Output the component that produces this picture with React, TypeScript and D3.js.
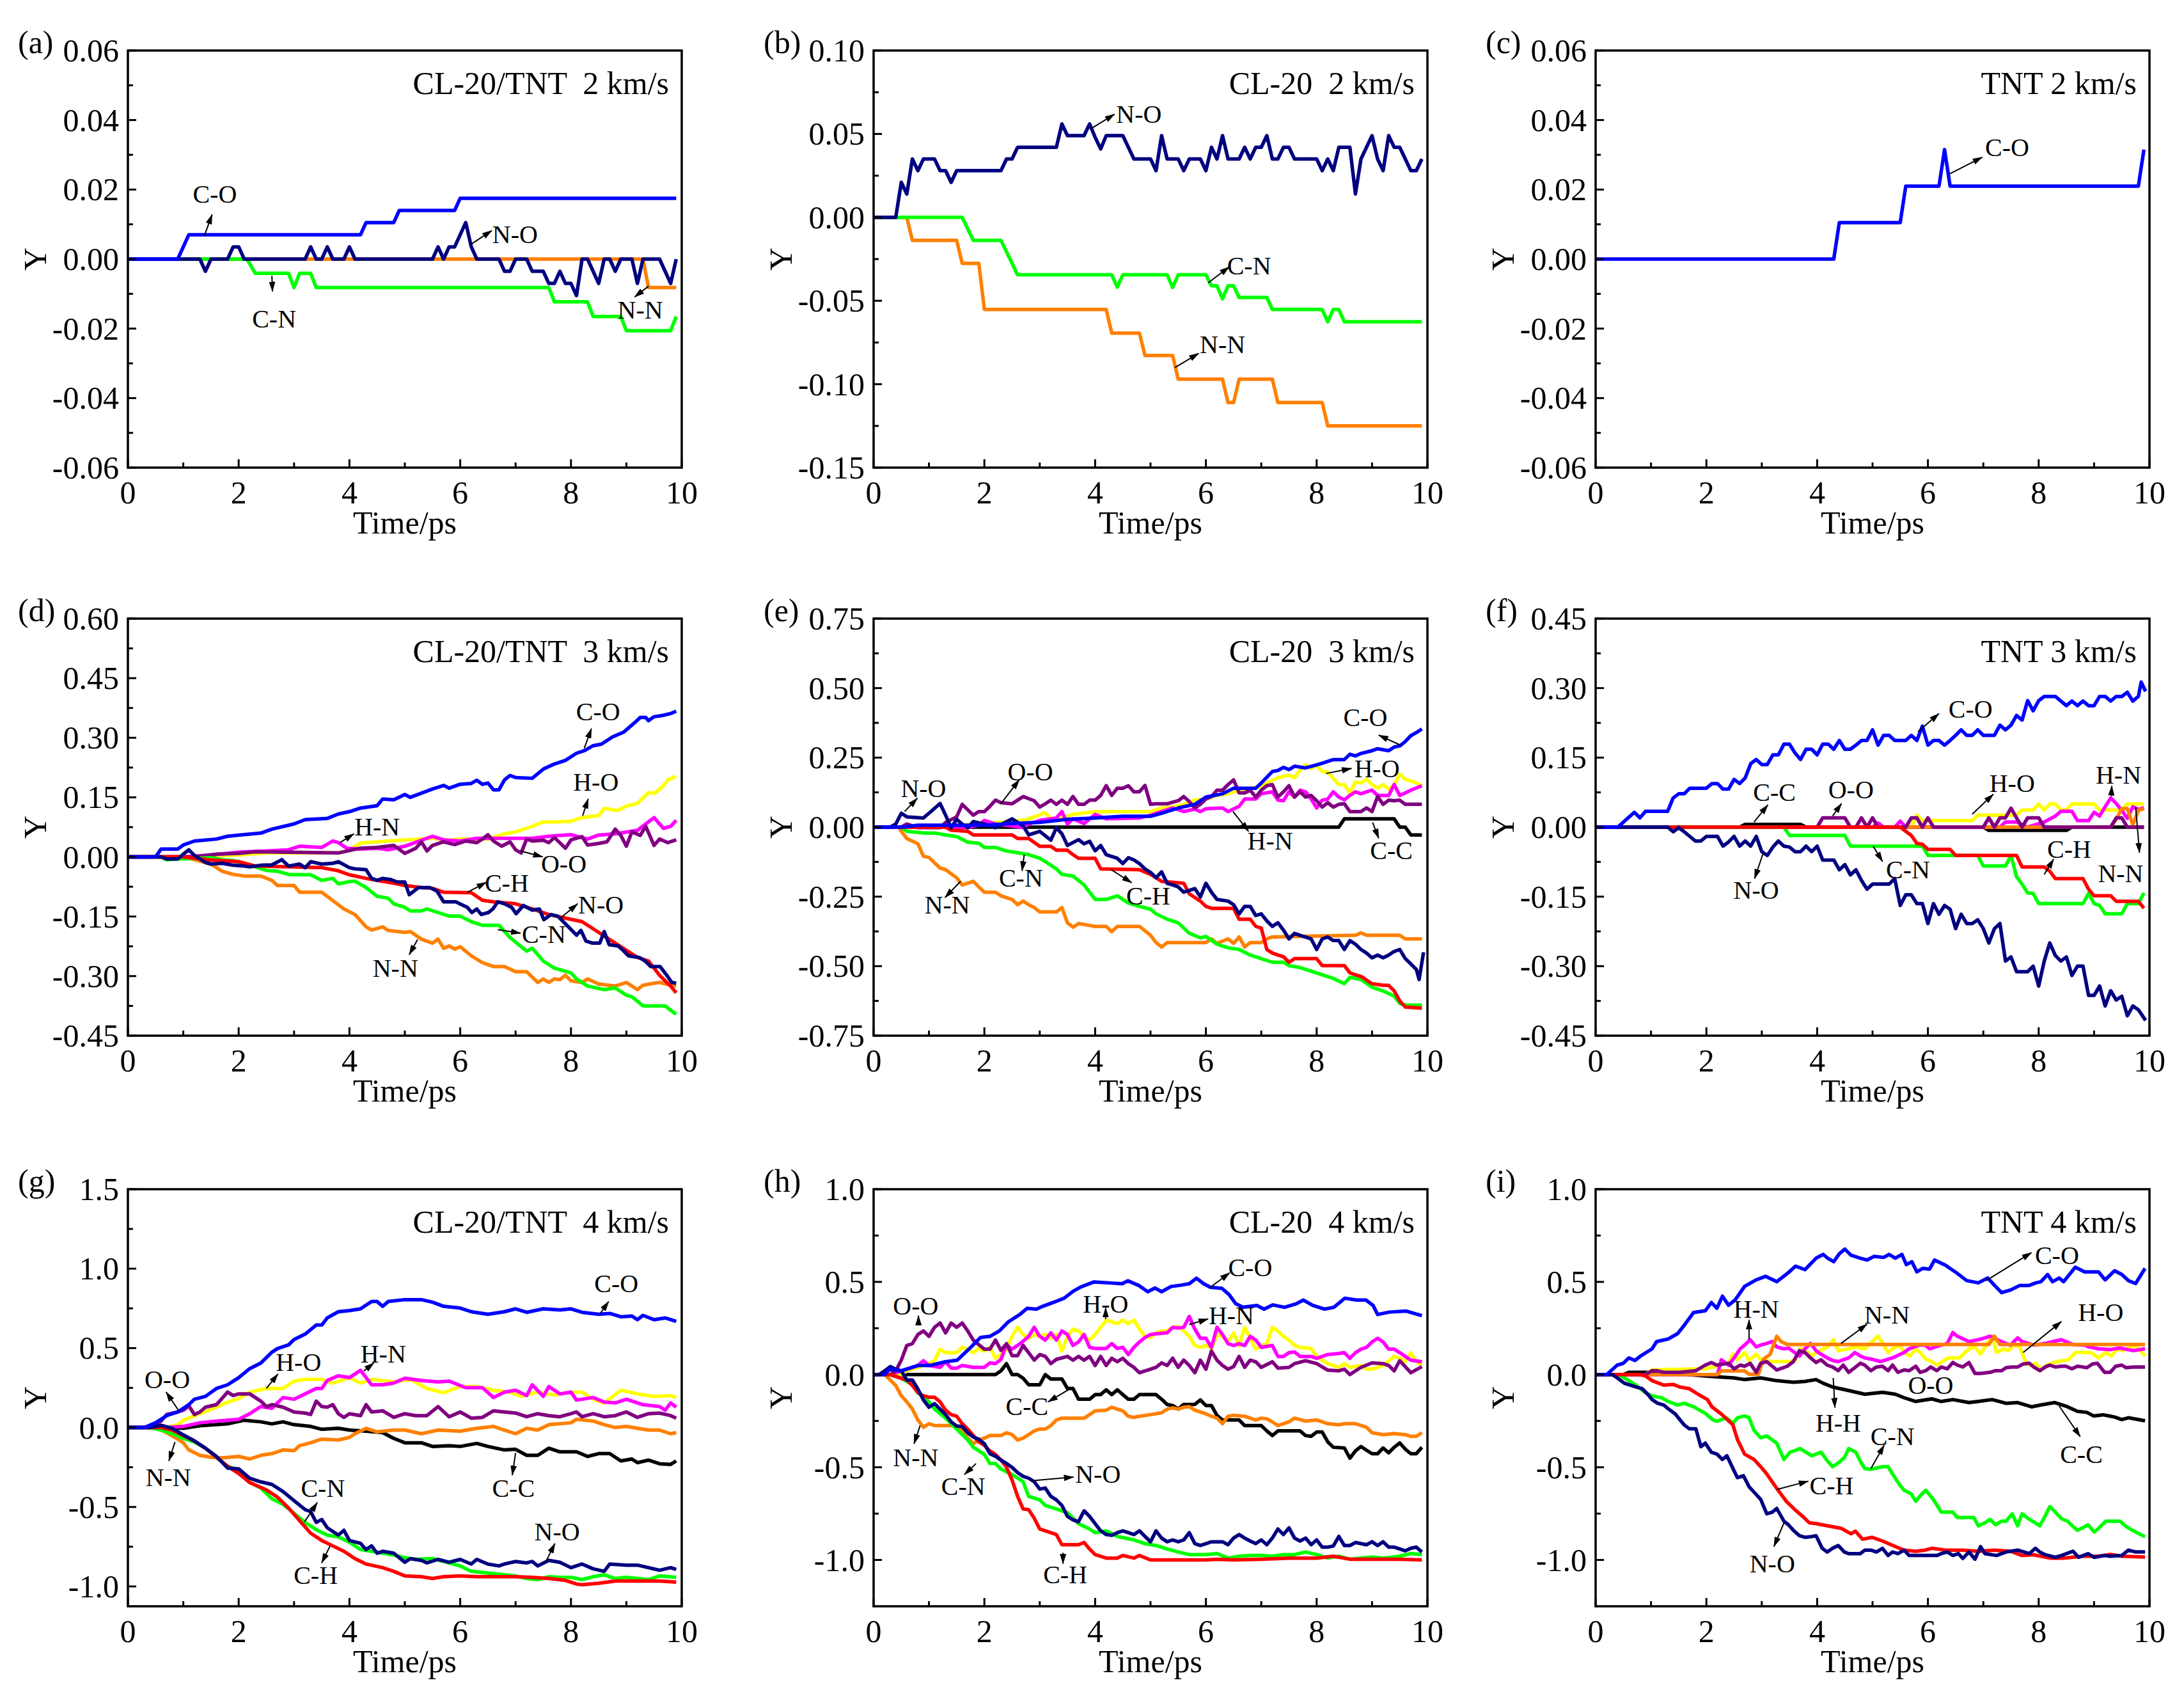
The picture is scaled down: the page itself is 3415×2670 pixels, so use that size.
import * as d3 from "d3";

type P = [number, number];
// text, label x, label y, then optional arrow x1, y1 -> x2, y2 (head at x2, y2)
type Note = [string, number, number, number?, number?, number?, number?];

const W = 3415;
const H = 2670;
const COL_X = [200, 1366, 2495];
const ROW_Y = [79, 967, 1859];
const PW = 866;
const PH = 652;
const FONT = "'Liberation Serif', 'Times New Roman', serif";

const COLORS: Record<string, string> = {
  "C-C": "#000000",
  "H-O": "#FFFF00",
  "H-N": "#FF00FF",
  "N-N": "#FF8000",
  "O-O": "#800080",
  "C-N": "#00FF00",
  "C-H": "#FF0000",
  "N-O": "#000080",
  "C-O": "#0000FF",
};
const DRAW_ORDER = ["C-C", "H-O", "H-N", "N-N", "O-O", "C-N", "C-H", "N-O", "C-O"];

const xTicks = [0, 2, 4, 6, 8, 10];
const xMinor = [1, 3, 5, 7, 9];

// ---------- (a) CL-20/TNT 2 km/s ----------
const a_yTicks = [-0.06, -0.04, -0.02, 0, 0.02, 0.04, 0.06];
const a_CO: P[] = [[0,0],[0.9,0],[1.1,0.007],[4.2,0.007],[4.3,0.0105],[4.8,0.0105],[4.9,0.014],[5.9,0.014],[6.0,0.0175],[9.9,0.0175]];
const a_NO: P[] = [[0,0],[1.3,0],[1.4,-0.0035],[1.5,0],[1.8,0],[1.9,0.0035],[2.0,0.0035],[2.1,0],[3.2,0],[3.3,0.0035],[3.4,0],[3.5,0],[3.6,0.0035],[3.7,0],[3.9,0],[4.0,0.0035],[4.1,0],[5.5,0],[5.6,0.0035],[5.7,0],[5.8,0.0035],[5.9,0.0035],[6.0,0.007],[6.1,0.0105],[6.2,0.0035],[6.3,0],[6.7,0],[6.8,-0.0035],[6.9,-0.0035],[7.0,0],[7.2,0],[7.3,-0.0035],[7.5,-0.0035],[7.6,-0.007],[7.7,-0.007],[7.8,-0.0035],[7.9,-0.007],[8.0,-0.007],[8.1,-0.0105],[8.2,0],[8.3,0],[8.4,-0.0035],[8.5,-0.007],[8.6,0],[8.7,0],[8.8,-0.0035],[8.9,0],[9.1,0],[9.2,-0.007],[9.3,0],[9.6,0],[9.8,-0.007],[9.9,0]];
const a_NN: P[] = [[0,0],[9.3,0],[9.4,-0.0082],[9.9,-0.0082]];
const a_CN: P[] = [[0,0],[2.15,0],[2.3,-0.0041],[2.9,-0.0041],[3.0,-0.0082],[3.1,-0.0041],[3.3,-0.0041],[3.4,-0.0082],[7.6,-0.0082],[7.7,-0.0123],[8.3,-0.0123],[8.4,-0.0165],[8.9,-0.0165],[9.0,-0.0206],[9.8,-0.0206],[9.9,-0.0165]];
const a_notes: Note[] = [
  ["C-O", 1.57, 0.0186, 1.38, 0.0067, 1.52, 0.0128],
  ["N-O", 6.99, 0.007, 6.19, 0.0042, 6.57, 0.0082],
  ["C-N", 2.64, -0.0172, 2.6, -0.0048, 2.61, -0.0093],
  ["N-N", 9.25, -0.0147, 9.4, -0.0078, 9.15, -0.0109],
];

// ---------- (b) CL-20 2 km/s ----------
const b_yTicks = [-0.15, -0.1, -0.05, 0, 0.05, 0.1];
const b_NO: P[] = [[0,0],[0.4,0],[0.5,0.021],[0.6,0.014],[0.7,0.035],[0.8,0.028],[0.9,0.035],[1.1,0.035],[1.2,0.028],[1.3,0.028],[1.4,0.021],[1.5,0.028],[2.3,0.028],[2.4,0.035],[2.5,0.035],[2.6,0.042],[3.3,0.042],[3.4,0.056],[3.5,0.049],[3.8,0.049],[3.9,0.056],[4.0,0.048],[4.1,0.041],[4.2,0.049],[4.5,0.049],[4.7,0.035],[5.0,0.035],[5.1,0.028],[5.2,0.049],[5.3,0.035],[5.5,0.035],[5.6,0.028],[5.7,0.035],[5.9,0.035],[6.0,0.028],[6.1,0.042],[6.2,0.035],[6.3,0.049],[6.4,0.035],[6.6,0.035],[6.7,0.042],[6.8,0.035],[6.9,0.042],[7.0,0.042],[7.1,0.049],[7.2,0.035],[7.3,0.035],[7.4,0.042],[7.5,0.042],[7.6,0.035],[8.0,0.035],[8.1,0.028],[8.2,0.035],[8.3,0.028],[8.4,0.042],[8.6,0.042],[8.7,0.014],[8.8,0.035],[8.9,0.042],[9.0,0.049],[9.1,0.035],[9.2,0.028],[9.3,0.049],[9.4,0.042],[9.5,0.042],[9.6,0.035],[9.7,0.028],[9.8,0.028],[9.9,0.035]];
const b_CN: P[] = [[0,0],[1.6,0],[1.8,-0.0138],[2.3,-0.0138],[2.6,-0.0344],[4.3,-0.0344],[4.4,-0.0418],[4.5,-0.0344],[5.3,-0.0344],[5.4,-0.042],[5.5,-0.0344],[6.0,-0.0344],[6.1,-0.041],[6.2,-0.041],[6.3,-0.0488],[6.4,-0.041],[6.5,-0.041],[6.6,-0.048],[7.1,-0.048],[7.2,-0.0552],[8.1,-0.0552],[8.2,-0.0626],[8.3,-0.0552],[8.4,-0.0552],[8.5,-0.0626],[9.9,-0.0626]];
const b_NN: P[] = [[0,0],[0.6,0],[0.7,-0.0138],[1.5,-0.0138],[1.6,-0.0276],[1.9,-0.0276],[2.0,-0.0552],[4.2,-0.0552],[4.3,-0.0694],[4.8,-0.0694],[4.9,-0.0828],[5.4,-0.0828],[5.5,-0.097],[6.3,-0.097],[6.4,-0.111],[6.5,-0.111],[6.6,-0.097],[7.2,-0.097],[7.3,-0.111],[8.1,-0.111],[8.2,-0.125],[9.9,-0.125]];
const b_notes: Note[] = [
  ["N-O", 4.79, 0.0618, 3.93, 0.0533, 4.35, 0.0618],
  ["C-N", 6.78, -0.029, 6.04, -0.0393, 6.42, -0.0297],
  ["N-N", 6.3, -0.0762, 5.44, -0.09, 5.87, -0.0815],
];

// ---------- (c) TNT 2 km/s ----------
const c_yTicks = [-0.06, -0.04, -0.02, 0, 0.02, 0.04, 0.06];
const c_CO: P[] = [[0,0],[4.3,0],[4.4,0.0105],[5.5,0.0105],[5.6,0.021],[6.2,0.021],[6.3,0.0315],[6.4,0.021],[9.8,0.021],[9.9,0.0315]];
const c_notes: Note[] = [["C-O", 7.43, 0.0322, 6.39, 0.0245, 6.98, 0.0293]];

// ---------- (d) CL-20/TNT 3 km/s ----------
const d_yTicks = [-0.45, -0.3, -0.15, 0, 0.15, 0.3, 0.45, 0.6];
const d_CO: P[] = [[0,0],[0.5,0],[0.6,0.02],[0.9,0.02],[1.0,0.03],[1.2,0.04],[1.6,0.045],[1.8,0.052],[2.0,0.055],[2.4,0.06],[2.6,0.07],[3.0,0.083],[3.2,0.094],[3.6,0.097],[3.8,0.108],[4.0,0.114],[4.2,0.123],[4.5,0.129],[4.6,0.146],[4.8,0.144],[5.0,0.157],[5.1,0.15],[5.5,0.171],[5.7,0.18],[5.8,0.173],[6.0,0.183],[6.2,0.185],[6.3,0.193],[6.4,0.183],[6.5,0.186],[6.6,0.169],[6.7,0.169],[6.8,0.194],[6.9,0.205],[7.0,0.2],[7.3,0.198],[7.5,0.221],[7.7,0.234],[7.9,0.243],[8.1,0.261],[8.25,0.268],[8.4,0.28],[8.55,0.284],[8.75,0.302],[8.95,0.314],[9.15,0.338],[9.25,0.351],[9.35,0.351],[9.4,0.343],[9.5,0.353],[9.65,0.356],[9.8,0.361],[9.9,0.367]];
const d_HO: P[] = [[0,0],[1.0,0],[1.5,0.003],[2.0,0.005],[2.5,0.01],[3.8,0.01],[4.0,0.018],[4.2,0.035],[4.5,0.038],[5.0,0.043],[5.5,0.047],[5.8,0.042],[6.0,0.045],[6.5,0.045],[6.8,0.058],[7.0,0.063],[7.3,0.077],[7.5,0.088],[7.7,0.088],[8.0,0.09],[8.2,0.099],[8.5,0.104],[8.6,0.122],[8.85,0.117],[9.0,0.128],[9.2,0.135],[9.4,0.162],[9.5,0.16],[9.65,0.176],[9.75,0.194],[9.9,0.203]];
const d_HN: P[] = [[0,0],[1.0,0],[1.5,0.005],[2.0,0.012],[2.5,0.015],[2.9,0.018],[3.1,0.027],[3.5,0.024],[3.7,0.04],[3.8,0.036],[3.95,0.022],[4.2,0.02],[4.5,0.022],[4.7,0.018],[5.0,0.027],[5.5,0.052],[5.7,0.043],[6.0,0.04],[6.3,0.047],[7.3,0.047],[7.6,0.052],[8.0,0.056],[8.3,0.045],[8.5,0.055],[8.8,0.058],[9.2,0.067],[9.5,0.099],[9.67,0.072],[9.8,0.077],[9.9,0.092]];
const d_OO: P[] = [[0,0],[1.2,0],[1.6,0.007],[2.0,0.009],[2.3,0.013],[3.8,0.01],[4.2,0.022],[4.5,0.024],[4.8,0.029],[5.0,0.009],[5.2,0.022],[5.3,0.038],[5.4,0.015],[5.5,0.029],[5.7,0.038],[5.9,0.031],[6.1,0.04],[6.3,0.036],[6.4,0.045],[6.5,0.056],[6.6,0.04],[6.75,0.027],[6.9,0.038],[7.0,0.018],[7.1,0.01],[7.2,0.045],[7.3,0.04],[7.5,0.042],[7.6,0.036],[7.7,0.049],[7.9,0.022],[8.0,0.043],[8.2,0.051],[8.3,0.03],[8.5,0.034],[8.65,0.038],[8.8,0.07],[8.9,0.054],[9.0,0.027],[9.1,0.063],[9.25,0.054],[9.35,0.077],[9.5,0.029],[9.6,0.045],[9.75,0.036],[9.9,0.043]];
const d_CH: P[] = [[0,0],[1.0,0],[1.5,-0.008],[2.0,-0.012],[2.3,-0.023],[3.5,-0.027],[3.8,-0.035],[4.0,-0.045],[4.3,-0.054],[4.5,-0.059],[4.8,-0.066],[5.0,-0.072],[5.3,-0.077],[5.5,-0.079],[5.7,-0.089],[6.2,-0.09],[6.4,-0.109],[6.6,-0.113],[7.0,-0.118],[7.3,-0.131],[7.6,-0.145],[7.9,-0.154],[8.2,-0.163],[8.5,-0.19],[8.8,-0.217],[9.0,-0.235],[9.2,-0.253],[9.4,-0.262],[9.5,-0.28],[9.6,-0.298],[9.7,-0.312],[9.8,-0.325],[9.9,-0.342]];
const d_NO: P[] = [[0,0],[0.6,0],[0.7,-0.005],[0.9,-0.005],[1.0,0.007],[1.1,0.018],[1.2,0.004],[1.4,-0.014],[1.5,-0.018],[1.7,-0.016],[1.9,-0.021],[2.1,-0.023],[2.2,-0.025],[2.4,-0.021],[2.6,-0.02],[2.78,-0.007],[2.9,-0.023],[3.1,-0.018],[3.2,-0.027],[3.3,-0.012],[3.5,-0.018],[3.7,-0.016],[3.8,-0.012],[4.0,-0.027],[4.1,-0.03],[4.3,-0.032],[4.4,-0.054],[4.5,-0.059],[4.6,-0.054],[4.75,-0.057],[4.86,-0.063],[5.0,-0.063],[5.08,-0.095],[5.25,-0.077],[5.45,-0.077],[5.58,-0.086],[5.7,-0.113],[5.92,-0.113],[6.13,-0.127],[6.21,-0.14],[6.3,-0.131],[6.38,-0.145],[6.51,-0.14],[6.59,-0.131],[6.68,-0.113],[6.8,-0.118],[6.93,-0.127],[7.01,-0.143],[7.14,-0.122],[7.3,-0.134],[7.43,-0.131],[7.51,-0.158],[7.64,-0.145],[7.76,-0.149],[7.89,-0.167],[7.99,-0.181],[8.1,-0.197],[8.18,-0.185],[8.27,-0.212],[8.39,-0.217],[8.52,-0.217],[8.6,-0.188],[8.69,-0.221],[8.85,-0.224],[8.94,-0.235],[9.04,-0.249],[9.23,-0.253],[9.34,-0.262],[9.44,-0.276],[9.61,-0.276],[9.73,-0.298],[9.82,-0.316],[9.9,-0.318]];
const d_CN: P[] = [[0,0],[0.6,0],[0.7,-0.007],[0.9,-0.005],[1.5,-0.002],[1.7,-0.007],[1.9,-0.009],[2.1,-0.016],[2.3,-0.025],[2.5,-0.034],[2.7,-0.036],[2.9,-0.044],[3.3,-0.045],[3.5,-0.059],[3.7,-0.054],[3.8,-0.068],[4.0,-0.062],[4.1,-0.061],[4.3,-0.077],[4.5,-0.099],[4.7,-0.104],[4.8,-0.118],[5.0,-0.127],[5.1,-0.136],[5.3,-0.136],[5.4,-0.131],[5.6,-0.14],[5.8,-0.149],[6.0,-0.149],[6.2,-0.163],[6.4,-0.172],[6.7,-0.172],[6.9,-0.203],[7.1,-0.226],[7.2,-0.237],[7.3,-0.23],[7.5,-0.262],[7.7,-0.28],[8.0,-0.292],[8.1,-0.307],[8.3,-0.325],[8.6,-0.334],[8.8,-0.33],[9.0,-0.348],[9.1,-0.352],[9.3,-0.375],[9.7,-0.375],[9.8,-0.386],[9.9,-0.396]];
const d_NN: P[] = [[0,0],[1.0,0],[1.2,-0.007],[1.5,-0.018],[1.7,-0.036],[1.9,-0.044],[2.1,-0.048],[2.4,-0.048],[2.6,-0.059],[2.7,-0.072],[3.0,-0.072],[3.1,-0.089],[3.5,-0.089],[3.7,-0.11],[3.9,-0.131],[4.1,-0.145],[4.3,-0.176],[4.4,-0.184],[4.6,-0.176],[4.7,-0.185],[5.0,-0.19],[5.1,-0.188],[5.3,-0.207],[5.5,-0.217],[5.6,-0.207],[5.7,-0.23],[5.8,-0.224],[5.9,-0.232],[6.0,-0.226],[6.2,-0.249],[6.4,-0.266],[6.6,-0.276],[6.8,-0.276],[7.0,-0.289],[7.2,-0.289],[7.4,-0.316],[7.5,-0.307],[7.6,-0.316],[7.7,-0.307],[7.8,-0.309],[7.9,-0.298],[8.0,-0.312],[8.2,-0.316],[8.3,-0.307],[8.5,-0.32],[8.8,-0.325],[9.0,-0.316],[9.1,-0.325],[9.2,-0.334],[9.3,-0.323],[9.5,-0.318],[9.6,-0.316],[9.8,-0.323],[9.9,-0.325]];
const d_notes: Note[] = [
  ["C-O", 8.49, 0.365, 8.24, 0.2736, 8.37, 0.323],
  ["H-O", 8.45, 0.189, 8.21, 0.1035, 8.31, 0.146],
  ["H-N", 4.5, 0.0765, 3.83, 0.036, 4.08, 0.058],
  ["O-O", 7.87, -0.018, 7.09, 0.015, 7.49, 0.0],
  ["C-H", 6.84, -0.066, 6.13, -0.089, 6.47, -0.064],
  ["N-O", 8.54, -0.12, 7.81, -0.154, 8.12, -0.118],
  ["C-N", 7.51, -0.194, 6.68, -0.183, 7.09, -0.192],
  ["N-N", 4.83, -0.28, 5.23, -0.208, 5.08, -0.246],
];

// ---------- (e) CL-20 3 km/s ----------
const e_yTicks = [-0.75, -0.5, -0.25, 0, 0.25, 0.5, 0.75];
const e_CO: P[] = [[0,0],[0.5,0],[0.8,0.007],[2.0,0.007],[2.5,0.013],[3.0,0.017],[3.5,0.028],[4.0,0.033],[4.5,0.039],[5.0,0.039],[5.2,0.05],[5.5,0.069],[5.8,0.082],[6.0,0.108],[6.3,0.12],[6.5,0.14],[6.9,0.14],[7.0,0.159],[7.2,0.2],[7.3,0.204],[7.4,0.215],[7.5,0.207],[7.6,0.219],[7.8,0.213],[8.0,0.224],[8.1,0.23],[8.3,0.243],[8.5,0.243],[8.6,0.262],[8.7,0.256],[8.8,0.265],[9.0,0.275],[9.1,0.282],[9.3,0.275],[9.4,0.288],[9.5,0.292],[9.6,0.308],[9.7,0.329],[9.8,0.34],[9.9,0.353]];
const e_HO: P[] = [[0,0],[1.3,0],[1.5,0.007],[2.0,0.013],[2.5,0.021],[2.8,0.029],[3.1,0.052],[3.2,0.03],[3.4,0.033],[3.6,0.046],[4.0,0.056],[5.0,0.056],[5.2,0.069],[5.4,0.072],[5.6,0.082],[5.8,0.097],[6.0,0.101],[6.2,0.114],[6.4,0.12],[6.6,0.133],[6.8,0.139],[7.0,0.146],[7.1,0.159],[7.3,0.178],[7.5,0.187],[7.6,0.178],[7.7,0.206],[7.8,0.224],[7.9,0.211],[8.0,0.221],[8.1,0.2],[8.2,0.198],[8.4,0.153],[8.5,0.153],[8.6,0.123],[8.7,0.162],[8.8,0.159],[8.9,0.172],[9.0,0.153],[9.1,0.14],[9.2,0.153],[9.3,0.136],[9.4,0.153],[9.5,0.191],[9.6,0.172],[9.7,0.166],[9.8,0.159],[9.9,0.149]];
const e_HN: P[] = [[0,0],[1.7,0],[1.9,0.007],[2.0,0.024],[2.2,0.011],[2.4,0.007],[2.7,-0.002],[2.8,0.011],[3.0,0.024],[3.2,0.03],[3.3,0.033],[3.4,0.056],[3.5,0.011],[3.6,0.03],[3.8,0.013],[4.0,0.046],[4.2,0.03],[4.8,0.033],[5.0,0.043],[5.2,0.056],[5.4,0.069],[5.6,0.056],[5.8,0.065],[5.9,0.056],[6.0,0.066],[6.3,0.069],[6.4,0.056],[6.6,0.075],[6.7,0.101],[6.9,0.101],[7.0,0.12],[7.2,0.127],[7.3,0.097],[7.4,0.095],[7.5,0.127],[7.6,0.108],[7.7,0.133],[7.8,0.127],[7.9,0.101],[8.0,0.069],[8.1,0.097],[8.2,0.101],[8.3,0.127],[8.4,0.108],[8.5,0.098],[8.6,0.114],[8.7,0.127],[8.8,0.12],[8.9,0.127],[9.0,0.133],[9.1,0.114],[9.3,0.114],[9.4,0.153],[9.5,0.114],[9.6,0.123],[9.7,0.133],[9.9,0.149]];
const e_OO: P[] = [[0,0],[0.5,0],[0.6,0.011],[0.8,-0.002],[1.2,-0.002],[1.3,0.017],[1.5,0.037],[1.6,0.082],[1.8,0.043],[1.9,0.056],[2.0,0.056],[2.1,0.075],[2.2,0.097],[2.3,0.088],[2.5,0.084],[2.6,0.097],[2.7,0.11],[2.9,0.095],[3.0,0.072],[3.1,0.084],[3.2,0.097],[3.3,0.082],[3.4,0.097],[3.5,0.082],[3.6,0.11],[3.7,0.082],[3.8,0.082],[3.9,0.097],[4.0,0.097],[4.1,0.114],[4.2,0.149],[4.3,0.114],[4.4,0.14],[4.5,0.14],[4.6,0.149],[4.7,0.127],[4.8,0.127],[4.9,0.15],[5.0,0.082],[5.1,0.084],[5.3,0.084],[5.5,0.095],[5.6,0.11],[5.7,0.092],[5.8,0.069],[5.9,0.082],[6.0,0.101],[6.1,0.11],[6.2,0.133],[6.3,0.133],[6.4,0.153],[6.5,0.17],[6.6,0.123],[6.7,0.123],[6.8,0.133],[6.9,0.108],[7.0,0.133],[7.1,0.149],[7.2,0.153],[7.3,0.108],[7.4,0.127],[7.5,0.149],[7.6,0.108],[7.7,0.127],[7.8,0.108],[7.9,0.114],[8.0,0.095],[8.1,0.072],[8.2,0.088],[8.3,0.072],[8.4,0.082],[8.5,0.084],[8.6,0.056],[8.8,0.056],[8.9,0.069],[9.0,0.056],[9.1,0.11],[9.2,0.082],[9.3,0.097],[9.4,0.095],[9.5,0.097],[9.6,0.082],[9.9,0.082]];
const e_CC: P[] = [[0,0],[8.4,0],[8.5,0.03],[9.4,0.03],[9.5,0],[9.6,0],[9.7,-0.028],[9.9,-0.028]];
const e_NO: P[] = [[0,0],[0.3,0],[0.4,0.011],[0.5,0.05],[0.6,0.037],[0.9,0.033],[1.0,0.05],[1.2,0.085],[1.3,0.043],[1.4,-0.002],[1.5,0.028],[1.6,0.011],[1.7,-0.002],[1.8,0.02],[2.0,0.011],[2.2,-0.002],[2.5,0.03],[2.7,0.005],[2.8,-0.028],[3.0,-0.015],[3.2,-0.047],[3.3,-0.002],[3.4,-0.024],[3.5,-0.066],[3.7,-0.045],[3.8,-0.06],[3.9,-0.051],[4.0,-0.085],[4.1,-0.066],[4.2,-0.099],[4.4,-0.112],[4.5,-0.131],[4.6,-0.11],[4.7,-0.118],[4.8,-0.131],[4.9,-0.15],[5.0,-0.163],[5.1,-0.182],[5.2,-0.161],[5.3,-0.202],[5.4,-0.208],[5.5,-0.215],[5.6,-0.234],[5.8,-0.221],[5.9,-0.251],[6.0,-0.202],[6.1,-0.234],[6.2,-0.26],[6.4,-0.266],[6.5,-0.279],[6.6,-0.312],[6.7,-0.285],[6.8,-0.285],[6.9,-0.318],[7.0,-0.312],[7.1,-0.337],[7.2,-0.357],[7.3,-0.344],[7.4,-0.37],[7.5,-0.402],[7.6,-0.382],[7.7,-0.389],[7.9,-0.402],[8.0,-0.44],[8.1,-0.402],[8.2,-0.395],[8.3,-0.408],[8.4,-0.408],[8.5,-0.44],[8.6,-0.408],[8.7,-0.421],[8.8,-0.44],[8.9,-0.453],[9.0,-0.47],[9.1,-0.46],[9.2,-0.47],[9.3,-0.46],[9.4,-0.447],[9.5,-0.44],[9.6,-0.473],[9.7,-0.492],[9.8,-0.512],[9.85,-0.548],[9.9,-0.486],[9.93,-0.45]];
const e_CH: P[] = [[0,0],[1.3,0],[1.4,-0.011],[1.7,-0.015],[1.8,-0.028],[2.5,-0.028],[2.6,-0.041],[2.8,-0.041],[3.0,-0.069],[3.2,-0.069],[3.3,-0.083],[3.5,-0.083],[3.6,-0.099],[3.7,-0.112],[4.0,-0.112],[4.1,-0.15],[4.8,-0.153],[5.0,-0.17],[5.1,-0.182],[5.2,-0.195],[5.6,-0.202],[5.7,-0.24],[5.9,-0.266],[6.0,-0.285],[6.1,-0.292],[6.5,-0.292],[6.6,-0.331],[6.8,-0.331],[6.9,-0.357],[7.0,-0.363],[7.1,-0.44],[7.2,-0.453],[7.3,-0.46],[7.4,-0.466],[7.5,-0.486],[7.6,-0.473],[8.0,-0.473],[8.1,-0.498],[8.5,-0.498],[8.6,-0.524],[8.7,-0.531],[8.8,-0.537],[8.9,-0.55],[9.0,-0.563],[9.2,-0.569],[9.3,-0.569],[9.4,-0.589],[9.5,-0.625],[9.6,-0.647],[9.9,-0.651]];
const e_CN: P[] = [[0,0],[0.5,0],[0.6,-0.015],[0.9,-0.021],[1.1,-0.021],[1.3,-0.028],[1.5,-0.034],[1.7,-0.054],[1.9,-0.058],[2.0,-0.073],[2.2,-0.073],[2.4,-0.086],[2.6,-0.092],[2.8,-0.099],[3.0,-0.112],[3.1,-0.124],[3.3,-0.15],[3.4,-0.17],[3.6,-0.176],[3.8,-0.208],[4.0,-0.26],[4.2,-0.26],[4.4,-0.247],[4.6,-0.273],[4.8,-0.285],[5.0,-0.295],[5.1,-0.312],[5.3,-0.331],[5.5,-0.344],[5.7,-0.382],[5.9,-0.398],[6.0,-0.393],[6.2,-0.421],[6.4,-0.434],[6.6,-0.44],[6.8,-0.46],[7.0,-0.473],[7.2,-0.486],[7.4,-0.486],[7.5,-0.498],[7.7,-0.505],[7.9,-0.518],[8.1,-0.531],[8.3,-0.544],[8.5,-0.563],[8.6,-0.54],[8.8,-0.548],[9.0,-0.576],[9.2,-0.589],[9.4,-0.608],[9.5,-0.634],[9.6,-0.64],[9.9,-0.64]];
const e_NN: P[] = [[0,0],[0.45,0],[0.5,-0.015],[0.6,-0.041],[0.8,-0.06],[0.9,-0.105],[1.0,-0.109],[1.2,-0.147],[1.3,-0.153],[1.5,-0.182],[1.6,-0.208],[1.8,-0.195],[1.9,-0.215],[2.0,-0.234],[2.2,-0.234],[2.3,-0.247],[2.5,-0.26],[2.6,-0.279],[2.7,-0.266],[2.8,-0.279],[2.9,-0.289],[3.0,-0.305],[3.3,-0.305],[3.4,-0.289],[3.5,-0.344],[3.6,-0.36],[3.7,-0.347],[3.8,-0.35],[4.0,-0.357],[4.2,-0.357],[4.3,-0.376],[4.4,-0.357],[4.8,-0.357],[5.0,-0.389],[5.1,-0.415],[5.2,-0.431],[5.3,-0.415],[6.0,-0.415],[6.1,-0.402],[6.2,-0.418],[6.4,-0.402],[6.5,-0.418],[6.6,-0.395],[6.7,-0.431],[6.8,-0.415],[7.0,-0.415],[7.1,-0.402],[7.2,-0.395],[8.7,-0.389],[8.8,-0.38],[8.9,-0.389],[9.5,-0.389],[9.6,-0.402],[9.9,-0.402]];
const e_notes: Note[] = [
  ["C-O", 8.88, 0.395, 9.51, 0.295, 9.12, 0.331],
  ["H-O", 9.09, 0.211, 8.17, 0.193, 8.63, 0.211],
  ["O-O", 2.83, 0.198, 2.3, 0.085, 2.63, 0.17],
  ["N-O", 0.9, 0.139, 0.56, 0.056, 0.79, 0.104],
  ["H-N", 7.16, -0.05, 6.49, 0.056, 6.77, -0.015],
  ["C-C", 9.35, -0.083, 9.01, 0.017, 9.12, -0.04],
  ["C-N", 2.66, -0.183, 2.72, -0.099, 2.68, -0.157],
  ["C-H", 4.96, -0.247, 4.29, -0.153, 4.66, -0.2],
  ["N-N", 1.33, -0.279, 1.57, -0.195, 1.29, -0.253],
];

// ---------- (f) TNT 3 km/s ----------
const f_yTicks = [-0.45, -0.3, -0.15, 0, 0.15, 0.3, 0.45];
const f_CO: P[] = [[0,0],[0.4,0],[0.7,0.032],[0.8,0.02],[0.9,0.034],[1.3,0.034],[1.4,0.063],[1.5,0.072],[1.6,0.072],[1.7,0.084],[2.0,0.084],[2.1,0.094],[2.2,0.094],[2.3,0.082],[2.4,0.082],[2.5,0.103],[2.6,0.094],[2.7,0.106],[2.8,0.137],[2.9,0.146],[3.0,0.135],[3.1,0.135],[3.2,0.156],[3.3,0.156],[3.4,0.179],[3.5,0.179],[3.6,0.16],[3.7,0.146],[3.8,0.168],[3.9,0.168],[4.0,0.156],[4.1,0.179],[4.2,0.179],[4.3,0.168],[4.4,0.187],[4.5,0.168],[4.6,0.168],[4.7,0.177],[4.8,0.187],[4.9,0.187],[5.0,0.21],[5.1,0.177],[5.2,0.198],[5.3,0.198],[5.4,0.187],[5.6,0.187],[5.7,0.198],[5.8,0.187],[5.9,0.218],[6.0,0.177],[6.1,0.187],[6.2,0.187],[6.3,0.177],[6.4,0.187],[6.5,0.198],[6.6,0.21],[6.7,0.198],[6.8,0.198],[6.9,0.21],[7.0,0.198],[7.2,0.198],[7.3,0.22],[7.4,0.21],[7.5,0.22],[7.6,0.241],[7.7,0.231],[7.8,0.273],[7.9,0.251],[8.0,0.273],[8.1,0.282],[8.3,0.282],[8.4,0.272],[8.5,0.262],[8.6,0.272],[8.7,0.262],[8.8,0.272],[8.9,0.262],[9.0,0.262],[9.1,0.282],[9.2,0.282],[9.3,0.272],[9.4,0.282],[9.5,0.282],[9.6,0.291],[9.7,0.272],[9.8,0.282],[9.85,0.313],[9.93,0.293]];
const f_NO: P[] = [[0,0],[1.3,0],[1.4,-0.01],[1.5,-0.001],[1.6,-0.01],[1.7,-0.02],[1.8,-0.03],[1.9,-0.03],[2.0,-0.02],[2.2,-0.02],[2.3,-0.041],[2.4,-0.032],[2.5,-0.02],[2.6,-0.041],[2.7,-0.03],[2.8,-0.041],[2.9,-0.02],[3.0,-0.053],[3.1,-0.061],[3.2,-0.043],[3.3,-0.03],[3.4,-0.041],[3.5,-0.043],[3.6,-0.053],[3.7,-0.053],[3.8,-0.041],[3.9,-0.053],[4.0,-0.041],[4.1,-0.071],[4.3,-0.071],[4.4,-0.092],[4.5,-0.081],[4.6,-0.103],[4.7,-0.092],[4.8,-0.115],[4.9,-0.134],[5.0,-0.123],[5.3,-0.123],[5.4,-0.111],[5.5,-0.169],[5.6,-0.146],[5.7,-0.146],[5.8,-0.165],[5.9,-0.165],[6.0,-0.208],[6.1,-0.165],[6.2,-0.188],[6.3,-0.169],[6.4,-0.177],[6.5,-0.219],[6.6,-0.188],[6.7,-0.208],[6.8,-0.208],[6.9,-0.2],[7.0,-0.219],[7.1,-0.25],[7.2,-0.219],[7.3,-0.208],[7.4,-0.289],[7.5,-0.28],[7.6,-0.312],[7.8,-0.312],[7.9,-0.3],[8.0,-0.343],[8.1,-0.289],[8.2,-0.25],[8.3,-0.277],[8.4,-0.289],[8.5,-0.28],[8.6,-0.32],[8.7,-0.3],[8.8,-0.3],[8.9,-0.363],[9.0,-0.363],[9.1,-0.343],[9.2,-0.386],[9.3,-0.353],[9.4,-0.373],[9.5,-0.365],[9.6,-0.407],[9.7,-0.386],[9.8,-0.394],[9.93,-0.417]];
const f_CC: P[] = [[0,0],[2.6,0],[2.7,0.006],[3.7,0.006],[3.8,0],[7.0,0],[7.1,-0.007],[8.5,-0.007],[8.6,0],[9.9,0]];
const f_OO: P[] = [[0,0],[4.0,0],[4.1,0.02],[4.5,0.02],[4.6,0],[4.7,0],[4.8,0.02],[4.9,0],[5.0,0.02],[5.1,0],[5.6,0],[5.7,0.02],[5.8,0.02],[5.9,0],[6.0,0.02],[6.1,0],[7.0,0],[7.1,0.02],[7.2,0],[7.3,0.02],[7.4,0.02],[7.5,0.041],[7.6,0.02],[7.7,0],[7.8,0.02],[8.0,0.02],[8.1,0],[9.3,0],[9.4,0.02],[9.5,0.02],[9.6,0],[9.9,0]];
const f_HN: P[] = [[0,0],[5.0,0],[5.1,0.009],[5.2,0],[5.4,0],[5.5,0.013],[5.6,0],[7.3,0],[7.4,0.011],[7.6,0.011],[7.8,0],[8.1,0.011],[8.3,0.024],[8.4,0.034],[8.6,0.034],[8.7,0.014],[8.9,0.014],[9.0,0.032],[9.1,0.024],[9.2,0.044],[9.3,0.063],[9.4,0.051],[9.5,0.036],[9.6,0.019],[9.7,0.044],[9.8,0.038],[9.9,0.042]];
const f_HO: P[] = [[0,0],[5.7,0],[5.8,0.026],[5.9,0.014],[6.8,0.014],[6.9,0.026],[7.6,0.026],[7.7,0.037],[7.9,0.037],[8.0,0.05],[8.1,0.037],[8.2,0.05],[8.3,0.05],[8.4,0.037],[8.5,0.037],[8.6,0.05],[9.0,0.05],[9.1,0.037],[9.5,0.037],[9.6,0.05],[9.9,0.05]];
const f_NN: P[] = [[0,0],[9.3,0],[9.4,0.017],[9.5,0.04],[9.6,0.04],[9.7,0.005],[9.8,0.036],[9.9,0.04]];
const f_CH: P[] = [[0,0],[5.5,0],[5.6,-0.009],[5.7,-0.018],[5.8,-0.035],[5.9,-0.037],[6.0,-0.048],[6.4,-0.048],[6.5,-0.061],[7.6,-0.061],[7.7,-0.086],[8.1,-0.086],[8.2,-0.095],[8.3,-0.111],[8.8,-0.111],[8.9,-0.134],[9.0,-0.148],[9.3,-0.148],[9.4,-0.16],[9.8,-0.16],[9.9,-0.175]];
const f_CN: P[] = [[0,0],[3.4,0],[3.5,-0.018],[4.5,-0.018],[4.6,-0.041],[5.9,-0.041],[6.0,-0.061],[6.9,-0.061],[7.0,-0.084],[7.4,-0.084],[7.5,-0.061],[7.6,-0.107],[7.7,-0.123],[7.8,-0.142],[7.9,-0.143],[8.0,-0.165],[8.8,-0.165],[8.9,-0.143],[9.0,-0.165],[9.1,-0.169],[9.2,-0.187],[9.5,-0.187],[9.6,-0.165],[9.8,-0.165],[9.9,-0.142]];
const f_notes: Note[] = [
  ["C-O", 6.77, 0.254, 5.82, 0.206, 6.2, 0.245],
  ["C-C", 3.23, 0.075, 2.86, 0.011, 3.11, 0.048],
  ["O-O", 4.61, 0.081, 4.28, 0.024, 4.44, 0.051],
  ["H-O", 7.52, 0.094, 6.8, 0.028, 7.18, 0.071],
  ["H-N", 9.44, 0.113, 9.31, 0.067, 9.32, 0.089],
  ["C-H", 8.55, -0.047, 8.1, -0.102, 8.27, -0.069],
  ["N-N", 9.48, -0.1, 9.75, 0.044, 9.82, -0.055],
  ["C-N", 5.64, -0.092, 5.01, -0.041, 5.18, -0.074],
  ["N-O", 2.9, -0.136, 3.02, -0.058, 2.87, -0.111],
];

// ---------- (g) CL-20/TNT 4 km/s ----------
const g_yTicks = [-1.0, -0.5, 0, 0.5, 1.0, 1.5];
const g_CO: P[] = [[0,0],[0.3,0],[0.5,0.03],[0.7,0.075],[0.9,0.098],[1.1,0.144],[1.2,0.178],[1.4,0.196],[1.6,0.246],[1.8,0.269],[2.0,0.314],[2.2,0.371],[2.4,0.406],[2.6,0.474],[2.7,0.497],[2.9,0.52],[3.0,0.554],[3.2,0.588],[3.4,0.645],[3.5,0.645],[3.6,0.69],[3.8,0.729],[4.0,0.736],[4.2,0.747],[4.3,0.77],[4.4,0.793],[4.5,0.793],[4.6,0.763],[4.7,0.793],[5.0,0.805],[5.3,0.805],[5.5,0.789],[5.7,0.763],[6.0,0.752],[6.2,0.729],[6.5,0.713],[6.8,0.729],[7.0,0.747],[7.2,0.725],[7.5,0.747],[7.8,0.74],[8.0,0.747],[8.2,0.725],[8.5,0.713],[8.7,0.718],[8.9,0.697],[9.1,0.702],[9.2,0.679],[9.3,0.706],[9.5,0.679],[9.7,0.69],[9.9,0.668]];
const g_HO: P[] = [[0,0],[0.7,0],[0.9,0.018],[1.0,0.046],[1.3,0.087],[1.6,0.128],[1.8,0.16],[2.0,0.182],[2.2,0.223],[2.5,0.246],[2.8,0.246],[3.0,0.292],[3.2,0.303],[3.5,0.303],[3.7,0.28],[4.0,0.314],[4.2,0.28],[4.4,0.303],[4.8,0.287],[5.1,0.303],[5.4,0.246],[5.7,0.219],[6.0,0.258],[6.3,0.258],[6.6,0.235],[6.9,0.223],[7.1,0.196],[7.4,0.223],[7.7,0.205],[8.0,0.223],[8.2,0.223],[8.4,0.178],[8.6,0.155],[8.9,0.235],[9.2,0.212],[9.5,0.196],[9.8,0.201],[9.9,0.189]];
const g_HN: P[] = [[0,0],[0.7,0],[1.0,0.007],[1.3,0.03],[1.6,0.041],[2.0,0.052],[2.2,0.087],[2.4,0.132],[2.6,0.121],[2.8,0.189],[3.0,0.178],[3.2,0.212],[3.4,0.246],[3.5,0.246],[3.6,0.296],[3.8,0.326],[4.0,0.314],[4.2,0.36],[4.4,0.269],[4.6,0.269],[4.8,0.28],[5.0,0.31],[5.3,0.296],[5.6,0.287],[5.8,0.292],[6.1,0.251],[6.4,0.251],[6.6,0.189],[6.8,0.223],[7.0,0.235],[7.2,0.201],[7.3,0.269],[7.5,0.196],[7.6,0.258],[7.8,0.212],[8.0,0.223],[8.1,0.173],[8.4,0.189],[8.6,0.16],[8.8,0.155],[9.0,0.178],[9.3,0.144],[9.6,0.132],[9.7,0.109],[9.8,0.155],[9.9,0.128]];
const g_OO: P[] = [[0,0],[0.4,0],[0.6,0.041],[0.7,0.082],[0.9,0.098],[1.0,0.109],[1.1,0.137],[1.2,0.082],[1.3,0.098],[1.4,0.128],[1.6,0.144],[1.8,0.223],[1.9,0.201],[2.0,0.212],[2.2,0.212],[2.4,0.166],[2.5,0.132],[2.6,0.144],[2.8,0.128],[3.0,0.098],[3.2,0.091],[3.3,0.082],[3.4,0.166],[3.5,0.132],[3.6,0.128],[3.7,0.144],[3.8,0.087],[3.9,0.064],[4.0,0.087],[4.2,0.075],[4.3,0.144],[4.4,0.098],[4.6,0.105],[4.8,0.064],[5.0,0.087],[5.2,0.075],[5.4,0.075],[5.6,0.132],[5.8,0.068],[6.0,0.098],[6.2,0.059],[6.4,0.064],[6.6,0.105],[6.8,0.098],[7.0,0.091],[7.2,0.068],[7.4,0.087],[7.6,0.075],[7.8,0.068],[8.0,0.087],[8.1,0.098],[8.2,0.068],[8.4,0.087],[8.6,0.068],[8.8,0.075],[9.0,0.098],[9.2,0.064],[9.4,0.087],[9.6,0.091],[9.8,0.075],[9.9,0.059]];
const g_CC: P[] = [[0,0],[0.7,0],[1.0,-0.005],[1.3,0.011],[1.6,0.018],[1.8,0.023],[2.1,0.046],[2.4,0.036],[2.6,0.023],[2.8,0.036],[3.0,0.018],[3.3,0.007],[3.5,-0.011],[3.8,-0.005],[4.0,-0.016],[4.3,-0.023],[4.6,-0.032],[4.8,-0.068],[5.0,-0.096],[5.3,-0.096],[5.5,-0.119],[5.8,-0.114],[6.0,-0.119],[6.3,-0.1],[6.5,-0.119],[6.8,-0.141],[7.0,-0.137],[7.2,-0.175],[7.4,-0.175],[7.6,-0.13],[7.8,-0.153],[8.1,-0.153],[8.3,-0.182],[8.5,-0.164],[8.7,-0.164],[8.9,-0.21],[9.1,-0.198],[9.2,-0.221],[9.4,-0.205],[9.6,-0.228],[9.8,-0.232],[9.9,-0.21]];
const g_NN: P[] = [[0,0],[0.5,0],[0.7,-0.032],[0.9,-0.073],[1.0,-0.096],[1.1,-0.141],[1.3,-0.175],[1.5,-0.187],[1.7,-0.191],[2.0,-0.182],[2.2,-0.198],[2.4,-0.175],[2.6,-0.164],[2.8,-0.141],[3.0,-0.146],[3.1,-0.114],[3.3,-0.096],[3.5,-0.073],[3.8,-0.078],[4.0,-0.062],[4.1,-0.039],[4.3,-0.005],[4.5,-0.027],[4.8,-0.016],[5.0,-0.016],[5.3,-0.039],[5.6,-0.016],[6.0,-0.023],[6.3,-0.005],[6.6,0.007],[6.8,-0.016],[7.0,-0.039],[7.2,-0.005],[7.4,-0.016],[7.6,0.018],[8.0,0.03],[8.1,0.052],[8.4,0.041],[8.6,0.018],[8.8,0.0],[9.0,0.007],[9.2,-0.005],[9.4,-0.016],[9.6,-0.016],[9.8,-0.039],[9.9,-0.032]];
const g_CH: P[] = [[0,0],[0.6,0],[0.8,-0.016],[1.0,-0.05],[1.2,-0.084],[1.4,-0.13],[1.6,-0.187],[1.8,-0.244],[2.0,-0.289],[2.2,-0.346],[2.5,-0.392],[2.7,-0.438],[2.9,-0.506],[3.1,-0.586],[3.3,-0.665],[3.5,-0.711],[3.7,-0.745],[3.9,-0.779],[4.1,-0.825],[4.3,-0.859],[4.6,-0.882],[4.8,-0.905],[5.0,-0.934],[5.3,-0.939],[5.5,-0.95],[5.7,-0.939],[6.0,-0.934],[6.3,-0.939],[6.7,-0.939],[7.0,-0.939],[7.3,-0.943],[7.6,-0.95],[7.9,-0.962],[8.1,-0.985],[8.2,-0.989],[8.5,-0.98],[8.8,-0.966],[9.2,-0.966],[9.6,-0.966],[9.9,-0.973]];
const g_CN: P[] = [[0,0],[0.4,0],[0.6,-0.016],[0.8,-0.039],[1.0,-0.068],[1.2,-0.091],[1.4,-0.13],[1.6,-0.187],[1.8,-0.244],[2.0,-0.267],[2.2,-0.346],[2.4,-0.38],[2.6,-0.449],[2.8,-0.483],[3.0,-0.54],[3.2,-0.597],[3.4,-0.643],[3.6,-0.677],[3.8,-0.688],[4.0,-0.722],[4.2,-0.768],[4.4,-0.779],[4.6,-0.791],[4.8,-0.802],[5.0,-0.82],[5.2,-0.829],[5.5,-0.825],[5.7,-0.843],[6.0,-0.871],[6.2,-0.905],[6.5,-0.916],[6.8,-0.927],[7.0,-0.934],[7.2,-0.95],[7.4,-0.957],[7.6,-0.939],[7.8,-0.943],[8.0,-0.943],[8.2,-0.957],[8.4,-0.939],[8.6,-0.927],[8.8,-0.95],[9.0,-0.943],[9.2,-0.95],[9.4,-0.957],[9.6,-0.934],[9.9,-0.943]];
const g_NO: P[] = [[0,0],[0.4,0],[0.6,0.014],[0.8,-0.005],[1.0,-0.046],[1.2,-0.084],[1.4,-0.13],[1.6,-0.182],[1.8,-0.255],[2.0,-0.26],[2.2,-0.319],[2.4,-0.342],[2.6,-0.358],[2.8,-0.403],[3.0,-0.46],[3.2,-0.517],[3.3,-0.529],[3.4,-0.597],[3.5,-0.579],[3.6,-0.631],[3.8,-0.677],[3.9,-0.647],[4.0,-0.711],[4.2,-0.729],[4.3,-0.768],[4.4,-0.745],[4.5,-0.791],[4.6,-0.779],[4.8,-0.791],[5.0,-0.848],[5.1,-0.825],[5.3,-0.836],[5.4,-0.852],[5.6,-0.83],[5.8,-0.848],[6.0,-0.83],[6.2,-0.859],[6.3,-0.83],[6.5,-0.859],[6.7,-0.871],[6.8,-0.859],[7.0,-0.843],[7.2,-0.852],[7.3,-0.843],[7.4,-0.871],[7.6,-0.836],[7.8,-0.848],[8.0,-0.882],[8.2,-0.859],[8.4,-0.889],[8.6,-0.905],[8.7,-0.859],[9.0,-0.866],[9.2,-0.866],[9.4,-0.882],[9.6,-0.898],[9.8,-0.882],[9.9,-0.893]];
const g_notes: Note[] = [
  ["C-O", 8.82, 0.907, 8.53, 0.718, 8.68, 0.793],
  ["H-O", 3.08, 0.41, 2.5, 0.246, 2.71, 0.337],
  ["H-N", 4.61, 0.463, 4.26, 0.356, 4.44, 0.406],
  ["O-O", 0.71, 0.303, 0.92, 0.105, 0.69, 0.223],
  ["N-N", 0.73, -0.312, 0.85, -0.091, 0.74, -0.21],
  ["C-C", 6.96, -0.381, 7.0, -0.16, 6.94, -0.3],
  ["C-N", 3.52, -0.381, 3.19, -0.593, 3.42, -0.472],
  ["N-O", 7.75, -0.654, 7.54, -0.848, 7.71, -0.73],
  ["C-H", 3.39, -0.928, 3.65, -0.745, 3.5, -0.852],
];

// ---------- (h) CL-20 4 km/s ----------
const h_yTicks = [-1.0, -0.5, 0, 0.5, 1.0];
const h_CO: P[] = [[0,0],[0.2,0],[0.29,0.03],[0.5,0.02],[0.8,0.049],[1.01,0.049],[1.3,0.069],[1.51,0.078],[1.72,0.137],[1.93,0.2],[2.1,0.206],[2.27,0.235],[2.43,0.284],[2.64,0.324],[2.77,0.357],[2.94,0.353],[3.06,0.369],[3.27,0.392],[3.44,0.412],[3.61,0.451],[3.73,0.471],[3.98,0.5],[4.28,0.494],[4.49,0.49],[4.59,0.506],[4.78,0.482],[4.95,0.447],[5.08,0.467],[5.2,0.447],[5.37,0.475],[5.54,0.482],[5.7,0.49],[5.83,0.52],[5.96,0.49],[6.08,0.471],[6.29,0.465],[6.42,0.431],[6.54,0.382],[6.67,0.363],[6.92,0.373],[7.05,0.353],[7.21,0.376],[7.42,0.363],[7.63,0.382],[7.76,0.402],[7.93,0.373],[8.14,0.353],[8.31,0.363],[8.51,0.412],[8.72,0.402],[8.89,0.402],[9.02,0.373],[9.1,0.324],[9.31,0.337],[9.61,0.343],[9.9,0.318]];
const h_OO: P[] = [[0,0],[0.3,0],[0.4,0.02],[0.5,0.078],[0.6,0.157],[0.7,0.167],[0.8,0.216],[0.9,0.235],[1.0,0.206],[1.1,0.255],[1.2,0.278],[1.3,0.225],[1.4,0.278],[1.5,0.255],[1.6,0.278],[1.7,0.235],[1.8,0.186],[2.0,0.137],[2.1,0.137],[2.2,0.186],[2.3,0.131],[2.4,0.167],[2.5,0.102],[2.6,0.102],[2.7,0.157],[2.8,0.118],[2.9,0.078],[3.0,0.108],[3.1,0.098],[3.2,0.059],[3.3,0.082],[3.5,0.098],[3.6,0.078],[3.7,0.098],[3.8,0.078],[3.9,0.098],[4.0,0.049],[4.1,0.098],[4.2,0.049],[4.3,0.088],[4.4,0.069],[4.5,0.088],[4.6,0.059],[4.7,0.039],[4.8,0.01],[5.0,0.029],[5.1,0.039],[5.2,0.063],[5.3,0.049],[5.4,0.088],[5.5,0.039],[5.6,0.078],[5.7,0.049],[5.8,0.01],[5.9,0.078],[6.0,0.029],[6.1,0.127],[6.2,0.078],[6.3,0.049],[6.4,0.029],[6.5,0.043],[6.6,0.098],[6.7,0.039],[6.8,0.078],[6.9,0.069],[7.0,0.039],[7.2,0.069],[7.3,0.035],[7.5,0.039],[7.6,0.059],[7.8,0.075],[8.0,0.059],[8.2,0.024],[8.4,0.02],[8.5,0.029],[8.6,0.0],[8.7,0.02],[8.8,0.039],[9.0,0.063],[9.2,0.059],[9.3,0.049],[9.4,0.02],[9.5,0.075],[9.6,0.043],[9.7,0.01],[9.9,0.043]];
const h_HO: P[] = [[0,0],[0.5,0],[0.6,0.02],[0.8,0.039],[1.0,0.059],[1.1,0.075],[1.2,0.137],[1.3,0.118],[1.5,0.118],[1.6,0.147],[1.7,0.137],[1.8,0.118],[1.9,0.141],[2.0,0.127],[2.1,0.147],[2.2,0.088],[2.3,0.108],[2.4,0.137],[2.5,0.206],[2.6,0.255],[2.7,0.216],[2.8,0.196],[2.9,0.216],[3.0,0.206],[3.1,0.216],[3.2,0.196],[3.3,0.216],[3.4,0.127],[3.5,0.206],[3.6,0.245],[3.7,0.235],[3.8,0.206],[3.9,0.186],[4.0,0.216],[4.1,0.255],[4.2,0.294],[4.3,0.284],[4.4,0.275],[4.5,0.294],[4.6,0.275],[4.7,0.294],[4.8,0.245],[4.9,0.206],[5.0,0.2],[5.1,0.225],[5.2,0.235],[5.3,0.235],[5.4,0.255],[5.5,0.259],[5.6,0.235],[5.7,0.206],[5.8,0.157],[5.9,0.147],[6.0,0.157],[6.1,0.141],[6.2,0.216],[6.3,0.206],[6.4,0.176],[6.5,0.225],[6.6,0.157],[6.7,0.255],[6.8,0.196],[6.9,0.137],[7.0,0.157],[7.1,0.167],[7.2,0.255],[7.3,0.235],[7.4,0.206],[7.5,0.186],[7.6,0.157],[7.7,0.147],[7.9,0.141],[8.0,0.098],[8.1,0.078],[8.2,0.059],[8.3,0.049],[8.4,0.039],[8.5,0.059],[8.6,0.039],[8.8,0.049],[8.9,0.029],[9.0,0.029],[9.2,0.049],[9.4,0.098],[9.5,0.088],[9.6,0.069],[9.7,0.118],[9.8,0.069],[9.9,0.049]];
const h_HN: P[] = [[0,0],[0.3,0],[0.5,0.02],[0.8,0.049],[0.9,0.075],[1.0,0.049],[1.2,0.039],[1.3,0.069],[1.4,0.035],[1.5,0.035],[1.6,0.049],[1.8,0.039],[2.0,0.039],[2.1,0.063],[2.2,0.059],[2.3,0.082],[2.4,0.161],[2.5,0.137],[2.6,0.157],[2.7,0.18],[2.8,0.206],[2.9,0.255],[3.0,0.206],[3.1,0.186],[3.2,0.225],[3.3,0.186],[3.4,0.235],[3.5,0.216],[3.6,0.157],[3.7,0.176],[3.8,0.216],[3.9,0.147],[4.0,0.141],[4.2,0.141],[4.3,0.167],[4.4,0.141],[4.5,0.147],[4.6,0.108],[4.7,0.147],[4.8,0.176],[4.9,0.2],[5.0,0.216],[5.1,0.22],[5.3,0.225],[5.4,0.255],[5.5,0.251],[5.6,0.255],[5.7,0.314],[5.8,0.245],[5.9,0.196],[6.0,0.196],[6.1,0.147],[6.2,0.255],[6.3,0.216],[6.4,0.167],[6.5,0.157],[6.6,0.167],[6.7,0.157],[6.8,0.206],[6.9,0.186],[7.0,0.147],[7.2,0.157],[7.3,0.098],[7.4,0.098],[7.5,0.118],[7.6,0.122],[7.7,0.098],[7.9,0.098],[8.0,0.088],[8.2,0.108],[8.4,0.114],[8.5,0.118],[8.6,0.088],[8.7,0.118],[8.8,0.137],[8.9,0.147],[9.0,0.176],[9.1,0.196],[9.2,0.176],[9.3,0.137],[9.4,0.137],[9.5,0.118],[9.6,0.098],[9.7,0.078],[9.9,0.069]];
const h_CC: P[] = [[0,0],[2.2,0],[2.3,0.02],[2.4,0.059],[2.5,0],[2.6,0],[2.7,-0.02],[2.8,-0.055],[3.0,-0.055],[3.1,0],[3.2,-0.024],[3.4,-0.024],[3.5,-0.075],[3.6,-0.075],[3.7,-0.133],[3.9,-0.133],[4.0,-0.108],[4.1,-0.108],[4.2,-0.082],[4.3,-0.108],[4.4,-0.082],[4.5,-0.108],[4.6,-0.133],[4.7,-0.133],[4.8,-0.108],[5.1,-0.108],[5.2,-0.133],[5.3,-0.161],[5.4,-0.167],[5.5,-0.186],[5.6,-0.161],[5.8,-0.161],[5.9,-0.137],[6.0,-0.167],[6.1,-0.167],[6.2,-0.22],[6.3,-0.245],[6.6,-0.245],[6.7,-0.275],[7.0,-0.275],[7.1,-0.304],[7.2,-0.329],[7.3,-0.304],[7.7,-0.304],[7.8,-0.329],[7.9,-0.333],[8.0,-0.31],[8.1,-0.31],[8.2,-0.363],[8.3,-0.392],[8.5,-0.396],[8.6,-0.451],[8.7,-0.412],[8.8,-0.388],[8.9,-0.408],[9.0,-0.427],[9.1,-0.427],[9.2,-0.396],[9.3,-0.422],[9.4,-0.392],[9.5,-0.369],[9.6,-0.402],[9.7,-0.427],[9.8,-0.427],[9.9,-0.392]];
const h_NN: P[] = [[0,0],[0.2,0],[0.3,-0.029],[0.4,-0.059],[0.5,-0.114],[0.6,-0.147],[0.7,-0.186],[0.8,-0.245],[0.9,-0.284],[1.0,-0.265],[1.1,-0.275],[1.5,-0.275],[1.6,-0.304],[1.7,-0.343],[1.8,-0.373],[1.9,-0.353],[2.0,-0.343],[2.1,-0.329],[2.3,-0.329],[2.4,-0.314],[2.5,-0.324],[2.6,-0.353],[2.7,-0.343],[2.8,-0.324],[2.9,-0.304],[3.0,-0.294],[3.1,-0.294],[3.2,-0.275],[3.3,-0.245],[3.4,-0.235],[3.8,-0.235],[3.9,-0.216],[4.0,-0.196],[4.2,-0.192],[4.3,-0.176],[4.5,-0.196],[4.6,-0.225],[4.7,-0.231],[4.8,-0.225],[5.0,-0.216],[5.2,-0.206],[5.3,-0.186],[5.4,-0.18],[5.5,-0.186],[5.6,-0.176],[5.7,-0.173],[5.8,-0.192],[6.0,-0.212],[6.1,-0.225],[6.2,-0.235],[6.3,-0.265],[6.4,-0.225],[6.5,-0.22],[6.7,-0.225],[6.9,-0.245],[7.0,-0.235],[7.1,-0.239],[7.2,-0.255],[7.3,-0.275],[7.4,-0.265],[7.5,-0.255],[7.6,-0.235],[7.8,-0.251],[8.0,-0.245],[8.1,-0.255],[8.2,-0.265],[8.4,-0.271],[8.5,-0.265],[8.7,-0.265],[8.8,-0.275],[8.9,-0.284],[9.0,-0.314],[9.2,-0.324],[9.4,-0.318],[9.6,-0.324],[9.7,-0.333],[9.8,-0.333],[9.9,-0.314]];
const h_CH: P[] = [[0,0],[0.3,0],[0.5,-0.02],[0.6,-0.029],[0.7,-0.059],[0.8,-0.098],[0.9,-0.114],[1.0,-0.122],[1.1,-0.122],[1.2,-0.147],[1.3,-0.192],[1.4,-0.216],[1.5,-0.225],[1.6,-0.265],[1.7,-0.294],[1.8,-0.329],[1.9,-0.363],[2.0,-0.382],[2.1,-0.412],[2.2,-0.431],[2.3,-0.461],[2.4,-0.5],[2.5,-0.569],[2.6,-0.657],[2.7,-0.725],[2.8,-0.729],[2.9,-0.775],[3.0,-0.833],[3.2,-0.853],[3.3,-0.863],[3.4,-0.918],[3.7,-0.918],[3.8,-0.906],[3.9,-0.941],[4.0,-0.971],[4.2,-0.99],[4.4,-0.99],[4.5,-0.976],[4.7,-0.99],[4.8,-0.976],[5.0,-1.0],[6.0,-1.0],[6.2,-0.996],[6.5,-1.0],[7.0,-0.996],[7.5,-0.99],[8.0,-0.99],[8.3,-0.98],[8.6,-0.996],[9.0,-0.996],[9.5,-0.996],[9.9,-1.0]];
const h_CN: P[] = [[0,0],[0.3,0],[0.5,-0.02],[0.7,-0.055],[0.8,-0.098],[1.0,-0.147],[1.1,-0.186],[1.3,-0.235],[1.5,-0.294],[1.7,-0.353],[1.8,-0.392],[2.0,-0.431],[2.1,-0.48],[2.2,-0.48],[2.3,-0.51],[2.5,-0.539],[2.7,-0.578],[2.8,-0.657],[3.0,-0.676],[3.1,-0.706],[3.3,-0.725],[3.5,-0.745],[3.7,-0.804],[3.9,-0.833],[4.0,-0.853],[4.2,-0.843],[4.4,-0.873],[4.7,-0.892],[4.9,-0.912],[5.1,-0.922],[5.3,-0.941],[5.5,-0.957],[5.7,-0.971],[6.0,-0.971],[6.2,-0.965],[6.4,-0.99],[6.6,-0.98],[6.8,-0.976],[7.0,-0.976],[7.2,-0.98],[7.4,-0.971],[7.6,-0.971],[7.8,-0.957],[8.0,-0.971],[8.2,-0.99],[8.4,-0.98],[8.6,-0.996],[8.8,-0.99],[9.0,-0.984],[9.2,-0.99],[9.5,-0.98],[9.7,-0.965],[9.9,-0.971]];
const h_NO: P[] = [[0,0],[0.1,0],[0.2,0.02],[0.3,0.043],[0.4,0.029],[0.5,0.02],[0.6,-0.029],[0.7,-0.029],[0.8,-0.078],[0.9,-0.137],[1.0,-0.176],[1.1,-0.157],[1.2,-0.186],[1.3,-0.216],[1.4,-0.255],[1.5,-0.278],[1.6,-0.28],[1.7,-0.314],[1.8,-0.337],[1.9,-0.349],[2.0,-0.373],[2.1,-0.427],[2.2,-0.441],[2.3,-0.461],[2.4,-0.48],[2.5,-0.5],[2.6,-0.529],[2.7,-0.549],[2.8,-0.559],[2.9,-0.578],[3.0,-0.618],[3.1,-0.612],[3.2,-0.657],[3.3,-0.676],[3.4,-0.706],[3.5,-0.765],[3.6,-0.784],[3.7,-0.794],[3.8,-0.735],[3.9,-0.765],[4.0,-0.804],[4.1,-0.843],[4.2,-0.863],[4.3,-0.867],[4.4,-0.853],[4.5,-0.843],[4.6,-0.853],[4.7,-0.863],[4.8,-0.843],[4.9,-0.873],[5.0,-0.902],[5.1,-0.843],[5.2,-0.882],[5.3,-0.902],[5.4,-0.892],[5.5,-0.902],[5.6,-0.892],[5.7,-0.853],[5.8,-0.912],[5.9,-0.922],[6.0,-0.912],[6.1,-0.902],[6.3,-0.902],[6.4,-0.918],[6.5,-0.882],[6.6,-0.863],[6.7,-0.882],[6.8,-0.898],[6.9,-0.912],[7.0,-0.892],[7.1,-0.918],[7.2,-0.882],[7.3,-0.833],[7.4,-0.863],[7.5,-0.827],[7.6,-0.882],[7.7,-0.898],[7.8,-0.882],[7.9,-0.918],[8.0,-0.892],[8.1,-0.931],[8.2,-0.931],[8.3,-0.925],[8.4,-0.873],[8.5,-0.922],[8.6,-0.922],[8.7,-0.906],[8.8,-0.912],[8.9,-0.918],[9.0,-0.902],[9.1,-0.922],[9.2,-0.902],[9.3,-0.931],[9.4,-0.931],[9.5,-0.941],[9.6,-0.951],[9.7,-0.937],[9.8,-0.931],[9.9,-0.957]];
const h_notes: Note[] = [
  ["C-O", 6.8, 0.578, 6.08, 0.471, 6.43, 0.549],
  ["H-O", 4.19, 0.382, 4.19, 0.3, 4.19, 0.36],
  ["H-N", 6.46, 0.32, 5.7, 0.27, 6.04, 0.3],
  ["O-O", 0.76, 0.369, 0.81, 0.265, 0.81, 0.318],
  ["C-C", 2.77, -0.173, 3.54, -0.078, 3.15, -0.147],
  ["N-N", 0.76, -0.447, 0.84, -0.275, 0.73, -0.373],
  ["C-N", 1.62, -0.602, 1.85, -0.48, 1.64, -0.539],
  ["N-O", 4.05, -0.539, 2.85, -0.573, 3.61, -0.553],
  ["C-H", 3.46, -1.078, 3.42, -0.961, 3.42, -1.02],
];

// ---------- (i) TNT 4 km/s ----------
const i_yTicks = [-1.0, -0.5, 0, 0.5, 1.0];
const i_CO: P[] = [[0,0],[0.2,0],[0.39,0.051],[0.5,0.061],[0.6,0.09],[0.71,0.076],[0.81,0.1],[1.02,0.139],[1.1,0.178],[1.31,0.192],[1.48,0.221],[1.6,0.266],[1.77,0.335],[1.98,0.344],[2.09,0.389],[2.19,0.358],[2.29,0.423],[2.4,0.374],[2.52,0.403],[2.69,0.476],[2.9,0.511],[3.07,0.53],[3.27,0.501],[3.48,0.55],[3.61,0.585],[3.78,0.566],[3.98,0.628],[4.11,0.648],[4.19,0.628],[4.3,0.609],[4.4,0.652],[4.5,0.677],[4.61,0.644],[4.78,0.628],[4.9,0.618],[5.03,0.638],[5.2,0.632],[5.3,0.648],[5.41,0.628],[5.53,0.648],[5.61,0.593],[5.71,0.609],[5.8,0.554],[5.91,0.573],[6.03,0.569],[6.12,0.618],[6.32,0.589],[6.53,0.546],[6.7,0.507],[6.91,0.495],[7.08,0.521],[7.2,0.482],[7.33,0.442],[7.49,0.456],[7.66,0.481],[7.83,0.481],[7.95,0.495],[8.04,0.501],[8.16,0.54],[8.25,0.501],[8.37,0.521],[8.45,0.501],[8.66,0.579],[8.83,0.554],[9.08,0.554],[9.2,0.511],[9.37,0.56],[9.5,0.54],[9.62,0.507],[9.75,0.491],[9.92,0.573]];
const i_HN: P[] = [[0,0],[2.2,0],[2.27,0.08],[2.4,0.051],[2.5,0.09],[2.61,0.139],[2.69,0.159],[2.79,0.188],[2.9,0.149],[2.98,0.159],[3.09,0.168],[3.19,0.178],[3.27,0.149],[3.4,0.139],[3.48,0.143],[3.59,0.12],[3.68,0.1],[3.78,0.139],[3.88,0.168],[3.98,0.129],[4.07,0.11],[4.18,0.09],[4.28,0.076],[4.38,0.07],[4.47,0.08],[4.57,0.09],[4.68,0.119],[4.78,0.1],[4.86,0.09],[4.97,0.084],[5.15,0.07],[5.36,0.09],[5.46,0.104],[5.57,0.119],[5.66,0.139],[5.85,0.159],[5.95,0.159],[6.03,0.139],[6.24,0.159],[6.35,0.168],[6.45,0.227],[6.53,0.207],[6.74,0.178],[6.91,0.188],[7.03,0.198],[7.12,0.207],[7.33,0.178],[7.49,0.159],[7.62,0.198],[7.7,0.178],[7.91,0.159],[8.12,0.168],[8.25,0.178],[8.41,0.188],[8.62,0.162],[8.83,0.159],[8.91,0.149],[9.08,0.139],[9.29,0.135],[9.47,0.143],[9.71,0.129],[9.92,0.139]];
const i_HO: P[] = [[0,0],[0.9,0],[1.02,0.025],[1.98,0.031],[2.19,0.045],[2.27,0.065],[2.4,0.061],[2.48,0.11],[2.56,0.08],[2.69,0.119],[2.77,0.076],[2.9,0.11],[2.98,0.08],[3.19,0.07],[3.51,0.07],[3.61,0.08],[3.69,0.139],[3.79,0.129],[3.9,0.1],[3.98,0.119],[4.19,0.149],[4.29,0.188],[4.38,0.129],[4.57,0.139],[4.7,0.149],[4.86,0.139],[4.99,0.178],[5.1,0.207],[5.18,0.168],[5.28,0.119],[5.36,0.139],[5.49,0.159],[5.57,0.119],[5.68,0.1],[5.78,0.139],[5.86,0.119],[5.96,0.084],[6.07,0.07],[6.16,0.051],[6.37,0.09],[6.57,0.09],[6.74,0.139],[6.85,0.149],[6.95,0.11],[7.05,0.159],[7.16,0.207],[7.24,0.119],[7.37,0.139],[7.45,0.129],[7.56,0.159],[7.66,0.149],[7.77,0.061],[7.85,0.051],[7.95,0.061],[8.04,0.021],[8.14,0.051],[8.33,0.07],[8.54,0.08],[8.66,0.119],[8.94,0.119],[9.08,0.09],[9.21,0.119],[9.31,0.1],[9.42,0.139],[9.5,0.129],[9.62,0.143],[9.75,0.159],[9.92,0.1]];
const i_NN: P[] = [[0,0],[2.2,0],[2.27,0.02],[2.69,0.02],[2.77,0.002],[2.94,0.002],[3.03,0.084],[3.15,0.109],[3.27,0.207],[3.35,0.178],[3.46,0.162],[7.1,0.162],[7.2,0.207],[7.3,0.162],[9.92,0.162]];
const i_OO: P[] = [[0,0],[0.9,0],[1.02,0.021],[1.1,0.021],[1.23,0.012],[1.52,0.012],[1.81,0.021],[1.98,0.051],[2.09,0.065],[2.19,0.051],[2.4,0.061],[2.5,0.031],[2.61,0.051],[2.69,0.045],[2.79,0.061],[2.9,0.012],[2.98,0.061],[3.09,0.07],[3.27,0.025],[3.46,0.045],[3.57,0.07],[3.68,0.129],[3.78,0.119],[3.88,0.09],[3.98,0.065],[4.07,0.08],[4.18,0.051],[4.28,0.041],[4.38,0.021],[4.47,0.051],[4.57,0.012],[4.78,0.061],[4.86,0.051],[4.97,0.021],[5.07,0.041],[5.18,0.045],[5.28,0.021],[5.36,0.051],[5.46,0.012],[5.57,0.025],[5.66,0.021],[5.78,0.045],[5.86,0.012],[5.96,0.021],[6.05,0.041],[6.16,0.021],[6.24,0.041],[6.35,0.031],[6.45,0.065],[6.53,0.051],[6.63,0.041],[6.74,0.065],[6.85,0.006],[6.95,0.006],[7.12,0.012],[7.22,0.021],[7.33,0.021],[7.41,0.037],[7.52,0.041],[7.62,0.041],[7.72,0.057],[7.83,0.061],[7.91,0.041],[8.02,0.021],[8.12,0.041],[8.2,0.051],[8.3,0.041],[8.41,0.045],[8.49,0.045],[8.6,0.031],[8.7,0.045],[8.79,0.041],[8.87,0.037],[8.97,0.057],[9.06,0.061],[9.19,0.012],[9.29,0.012],[9.39,0.045],[9.5,0.051],[9.58,0.037],[9.71,0.041],[9.92,0.041]];
const i_CC: P[] = [[0,0],[0.5,0],[0.6,0.012],[1.02,0.012],[1.31,0.006],[1.6,0.002],[1.98,-0.008],[2.27,-0.014],[2.5,-0.018],[2.69,-0.027],[2.98,-0.018],[3.27,-0.033],[3.57,-0.041],[3.78,-0.037],[3.98,-0.027],[4.11,-0.047],[4.28,-0.067],[4.57,-0.086],[4.86,-0.106],[5.18,-0.096],[5.41,-0.106],[5.57,-0.125],[5.78,-0.145],[6.07,-0.131],[6.24,-0.145],[6.45,-0.135],[6.74,-0.151],[6.91,-0.145],[7.16,-0.135],[7.41,-0.155],[7.62,-0.151],[7.87,-0.174],[8.04,-0.164],[8.29,-0.151],[8.49,-0.17],[8.7,-0.198],[8.87,-0.204],[8.99,-0.223],[9.16,-0.217],[9.37,-0.229],[9.5,-0.243],[9.62,-0.233],[9.92,-0.249]];
const i_CH: P[] = [[0,0],[0.8,0],[0.9,-0.008],[1.02,-0.033],[1.23,-0.057],[1.4,-0.053],[1.52,-0.067],[1.69,-0.076],[1.85,-0.106],[2.02,-0.135],[2.1,-0.174],[2.27,-0.213],[2.48,-0.272],[2.56,-0.35],[2.69,-0.429],[2.86,-0.458],[2.98,-0.497],[3.09,-0.536],[3.27,-0.614],[3.44,-0.683],[3.61,-0.732],[3.76,-0.771],[3.86,-0.8],[3.98,-0.804],[4.19,-0.816],[4.44,-0.83],[4.61,-0.859],[4.69,-0.845],[4.82,-0.888],[4.99,-0.878],[5.18,-0.898],[5.36,-0.921],[5.57,-0.947],[5.78,-0.953],[5.95,-0.947],[6.07,-0.937],[6.32,-0.947],[6.62,-0.947],[6.91,-0.953],[7.2,-0.947],[7.49,-0.953],[7.7,-0.976],[7.91,-0.972],[8.2,-0.99],[8.45,-0.99],[8.79,-0.98],[9.08,-0.98],[9.29,-0.97],[9.5,-0.98],[9.92,-0.984]];
const i_CN: P[] = [[0,0],[0.4,0],[0.52,-0.018],[0.73,-0.057],[0.89,-0.096],[1.02,-0.115],[1.19,-0.125],[1.31,-0.145],[1.48,-0.164],[1.6,-0.155],[1.77,-0.174],[1.98,-0.209],[2.11,-0.243],[2.19,-0.252],[2.36,-0.233],[2.48,-0.262],[2.56,-0.233],[2.69,-0.223],[2.77,-0.233],[2.86,-0.301],[2.98,-0.341],[3.09,-0.331],[3.27,-0.37],[3.4,-0.458],[3.51,-0.419],[3.61,-0.409],[3.69,-0.399],[3.9,-0.438],[3.98,-0.429],[4.07,-0.419],[4.19,-0.468],[4.28,-0.497],[4.38,-0.477],[4.49,-0.448],[4.57,-0.399],[4.7,-0.419],[4.78,-0.468],[4.86,-0.507],[4.97,-0.511],[5.18,-0.497],[5.28,-0.497],[5.36,-0.536],[5.49,-0.595],[5.57,-0.624],[5.7,-0.644],[5.78,-0.683],[5.86,-0.654],[5.96,-0.624],[6.07,-0.663],[6.16,-0.703],[6.24,-0.742],[6.45,-0.742],[6.53,-0.771],[6.83,-0.771],[6.91,-0.816],[7.03,-0.8],[7.12,-0.781],[7.22,-0.81],[7.33,-0.791],[7.41,-0.791],[7.52,-0.751],[7.62,-0.816],[7.7,-0.751],[7.83,-0.781],[7.94,-0.8],[8.02,-0.816],[8.12,-0.761],[8.2,-0.712],[8.3,-0.742],[8.41,-0.777],[8.52,-0.791],[8.62,-0.82],[8.7,-0.84],[8.81,-0.824],[8.89,-0.81],[9.0,-0.849],[9.08,-0.83],[9.21,-0.791],[9.47,-0.791],[9.58,-0.82],[9.71,-0.843],[9.92,-0.875]];
const i_NO: P[] = [[0,0],[0.3,0],[0.39,-0.018],[0.52,-0.047],[0.73,-0.067],[0.84,-0.076],[0.94,-0.106],[1.02,-0.135],[1.12,-0.155],[1.23,-0.164],[1.31,-0.184],[1.44,-0.213],[1.52,-0.243],[1.6,-0.272],[1.69,-0.292],[1.81,-0.292],[1.9,-0.389],[1.98,-0.37],[2.09,-0.419],[2.19,-0.429],[2.29,-0.458],[2.37,-0.438],[2.48,-0.507],[2.56,-0.556],[2.67,-0.546],[2.77,-0.605],[2.86,-0.634],[2.98,-0.673],[3.09,-0.751],[3.19,-0.742],[3.27,-0.722],[3.4,-0.791],[3.48,-0.81],[3.57,-0.84],[3.68,-0.869],[3.78,-0.878],[3.88,-0.875],[3.98,-0.869],[4.09,-0.937],[4.18,-0.957],[4.28,-0.937],[4.38,-0.922],[4.49,-0.957],[4.57,-0.966],[4.78,-0.966],[4.86,-0.947],[4.97,-0.947],[5.07,-0.957],[5.18,-0.937],[5.28,-0.976],[5.36,-0.957],[5.46,-0.966],[5.57,-0.947],[5.66,-0.976],[5.95,-0.976],[6.16,-0.976],[6.24,-0.966],[6.35,-0.957],[6.45,-0.976],[6.55,-0.966],[6.63,-0.992],[6.74,-0.957],[6.85,-0.996],[6.95,-0.928],[7.03,-0.966],[7.24,-0.976],[7.41,-0.957],[7.62,-0.947],[7.83,-0.966],[7.94,-0.937],[8.02,-0.957],[8.12,-0.972],[8.3,-0.986],[8.41,-0.976],[8.5,-0.966],[8.62,-0.953],[8.72,-0.986],[8.89,-0.966],[9.0,-0.986],[9.19,-0.976],[9.29,-0.98],[9.5,-0.976],[9.62,-0.947],[9.75,-0.957],[9.92,-0.957]];
const i_notes: Note[] = [
  ["C-O", 8.33, 0.644, 7.05, 0.507, 7.87, 0.658],
  ["H-N", 2.9, 0.354, 2.77, 0.188, 2.77, 0.295],
  ["N-N", 5.26, 0.321, 4.43, 0.168, 4.9, 0.272],
  ["H-O", 9.12, 0.335, 7.72, 0.119, 8.41, 0.286],
  ["O-O", 6.05, -0.057],
  ["H-H", 4.38, -0.262, 4.29, -0.018, 4.32, -0.178],
  ["C-C", 8.77, -0.429, 8.37, -0.17, 8.75, -0.335],
  ["C-N", 5.36, -0.335, 4.97, -0.507, 5.21, -0.381],
  ["C-H", 4.26, -0.601, 3.27, -0.62, 3.84, -0.575],
  ["N-O", 3.19, -1.02, 3.4, -0.8, 3.22, -0.928],
];

type PanelCfg = {
  tag: string;
  title: string;
  yDomain: [number, number];
  yTicks: number[];
  digits: number;
  series: Record<string, P[]>;
  notes: Note[];
};

const panels: PanelCfg[] = [
  { tag: "(a)", title: "CL-20/TNT  2 km/s", yDomain: [-0.06, 0.06], yTicks: a_yTicks, digits: 2,
    series: { "C-O": a_CO, "N-O": a_NO, "N-N": a_NN, "C-N": a_CN }, notes: a_notes },
  { tag: "(b)", title: "CL-20  2 km/s", yDomain: [-0.15, 0.1], yTicks: b_yTicks, digits: 2,
    series: { "N-O": b_NO, "C-N": b_CN, "N-N": b_NN }, notes: b_notes },
  { tag: "(c)", title: "TNT 2 km/s", yDomain: [-0.06, 0.06], yTicks: c_yTicks, digits: 2,
    series: { "C-O": c_CO }, notes: c_notes },
  { tag: "(d)", title: "CL-20/TNT  3 km/s", yDomain: [-0.45, 0.6], yTicks: d_yTicks, digits: 2,
    series: { "C-O": d_CO, "H-O": d_HO, "H-N": d_HN, "O-O": d_OO, "C-H": d_CH, "N-O": d_NO, "C-N": d_CN, "N-N": d_NN }, notes: d_notes },
  { tag: "(e)", title: "CL-20  3 km/s", yDomain: [-0.75, 0.75], yTicks: e_yTicks, digits: 2,
    series: { "C-O": e_CO, "H-O": e_HO, "H-N": e_HN, "O-O": e_OO, "C-C": e_CC, "N-O": e_NO, "C-H": e_CH, "C-N": e_CN, "N-N": e_NN }, notes: e_notes },
  { tag: "(f)", title: "TNT 3 km/s", yDomain: [-0.45, 0.45], yTicks: f_yTicks, digits: 2,
    series: { "C-O": f_CO, "N-O": f_NO, "C-C": f_CC, "O-O": f_OO, "H-N": f_HN, "H-O": f_HO, "N-N": f_NN, "C-H": f_CH, "C-N": f_CN }, notes: f_notes },
  { tag: "(g)", title: "CL-20/TNT  4 km/s", yDomain: [-1.125, 1.5], yTicks: g_yTicks, digits: 1,
    series: { "C-O": g_CO, "H-O": g_HO, "H-N": g_HN, "O-O": g_OO, "C-C": g_CC, "N-N": g_NN, "C-H": g_CH, "C-N": g_CN, "N-O": g_NO }, notes: g_notes },
  { tag: "(h)", title: "CL-20  4 km/s", yDomain: [-1.25, 1.0], yTicks: h_yTicks, digits: 1,
    series: { "C-O": h_CO, "O-O": h_OO, "H-O": h_HO, "H-N": h_HN, "C-C": h_CC, "N-N": h_NN, "C-H": h_CH, "C-N": h_CN, "N-O": h_NO }, notes: h_notes },
  { tag: "(i)", title: "TNT 4 km/s", yDomain: [-1.25, 1.0], yTicks: i_yTicks, digits: 1,
    series: { "C-O": i_CO, "H-N": i_HN, "H-O": i_HO, "N-N": i_NN, "O-O": i_OO, "C-C": i_CC, "C-H": i_CH, "C-N": i_CN, "N-O": i_NO }, notes: i_notes },
];

const fmt = (v: number, digits: number) => {
  const s = Math.abs(v).toFixed(digits);
  return v < -1e-9 ? "-" + s : s;
};

// minor ticks halfway between the majors, plus one beyond each end if it falls inside
const minorTicks = (major: number[], dom: [number, number]) => {
  const step = major[1] - major[0];
  const out: number[] = [];
  const first = major[0] - step / 2;
  for (let v = first; v <= dom[1] + 1e-9; v += step) {
    if (v > dom[0] + 1e-9 && v < dom[1] - 1e-9) out.push(v);
  }
  return out;
};

function Panel({ cfg, left, top }: { cfg: PanelCfg; left: number; top: number }) {
  const x = d3.scaleLinear().domain([0, 10]).range([left, left + PW]);
  const y = d3.scaleLinear().domain(cfg.yDomain).range([top + PH, top]);
  const line = d3.line<P>().x((d) => x(d[0])).y((d) => y(d[1]));
  const yMinor = minorTicks(cfg.yTicks, cfg.yDomain);
  const bottom = top + PH;

  return (
    <g>
      {/* series */}
      {DRAW_ORDER.filter((k) => cfg.series[k]).map((k) => (
        <path key={k} d={line(cfg.series[k]) || ""} fill="none" stroke={COLORS[k]}
          strokeWidth={5.5} strokeLinejoin="round" strokeLinecap="butt" />
      ))}

      {/* frame */}
      <rect x={left} y={top} width={PW} height={PH} fill="none" stroke="#000" strokeWidth={3.5} />

      {/* y ticks */}
      {cfg.yTicks.map((v) => (
        <g key={"y" + v}>
          <line x1={left} x2={left + 13} y1={y(v)} y2={y(v)} stroke="#000" strokeWidth={3} />
          <text x={left - 14} y={y(v) + 17} textAnchor="end" fontSize={50} fontFamily={FONT}>{fmt(v, cfg.digits)}</text>
        </g>
      ))}
      {yMinor.map((v) => (
        <line key={"ym" + v} x1={left} x2={left + 8} y1={y(v)} y2={y(v)} stroke="#000" strokeWidth={3} />
      ))}

      {/* x ticks */}
      {xTicks.map((v) => (
        <g key={"x" + v}>
          <line x1={x(v)} x2={x(v)} y1={bottom} y2={bottom - 13} stroke="#000" strokeWidth={3} />
          <text x={x(v)} y={bottom + 56} textAnchor="middle" fontSize={50} fontFamily={FONT}>{v}</text>
        </g>
      ))}
      {xMinor.map((v) => (
        <line key={"xm" + v} x1={x(v)} x2={x(v)} y1={bottom} y2={bottom - 8} stroke="#000" strokeWidth={3} />
      ))}

      {/* axis titles */}
      <text x={left + PW / 2} y={bottom + 103} textAnchor="middle" fontSize={50} fontFamily={FONT}>Time/ps</text>
      <text transform={`translate(${left - 128},${top + PH / 2}) rotate(-90)`} textAnchor="middle"
        fontSize={50} fontFamily={FONT}>Y</text>
      <text x={left - 172} y={top + 4} fontSize={50} fontFamily={FONT}>{cfg.tag}</text>
      <text x={left + PW - 20} y={top + 68} textAnchor="end" fontSize={50} fontFamily={FONT}
        style={{ whiteSpace: "pre" }}>{cfg.title}</text>

      {/* labels with arrows */}
      {cfg.notes.map((n, i) => (
        <g key={"n" + i}>
          {n[3] !== undefined && (
            <line x1={x(n[3]!)} y1={y(n[4]!)} x2={x(n[5]!)} y2={y(n[6]!)} stroke="#000"
              strokeWidth={2} markerEnd="url(#arrowHead)" />
          )}
          <text x={x(n[1])} y={y(n[2])} textAnchor="middle" dominantBaseline="central"
            fontSize={40} fontFamily={FONT}>{n[0]}</text>
        </g>
      ))}
    </g>
  );
}

export default function App() {
  return (
    <div style={{ position: "absolute", left: 0, top: 0, background: "#fff" }}>
      <svg width={W} height={H} viewBox={`0 0 ${W} ${H}`} style={{ display: "block" }}>
        <defs>
          <marker id="arrowHead" markerUnits="userSpaceOnUse" markerWidth={16} markerHeight={10}
            refX={15} refY={5} orient="auto">
            <path d="M0,0 L16,5 L0,10 z" fill="#000" />
          </marker>
        </defs>
        <rect x={0} y={0} width={W} height={H} fill="#fff" />
        {panels.map((p, i) => (
          <Panel key={p.tag} cfg={p} left={COL_X[i % 3]} top={ROW_Y[Math.floor(i / 3)]} />
        ))}
      </svg>
    </div>
  );
}
